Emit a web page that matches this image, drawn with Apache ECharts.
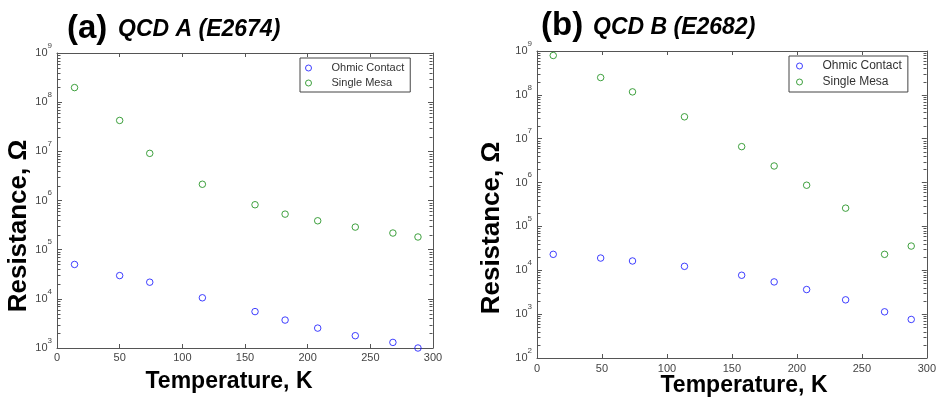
<!DOCTYPE html>
<html><head><meta charset="utf-8">
<script src="https://cdn.jsdelivr.net/npm/echarts@6/dist/echarts.min.js"></script>
<style>html,body{margin:0;padding:0;background:#fff}#c{width:939px;height:401px}</style>
</head><body><div id="c"></div>
<script>
// ---- data ----
const seriesNames = ['Ohmic Contact', 'Single Mesa'];
const tempA  = [14, 50, 74, 116, 158, 182, 208, 238, 268, 288];
const ohmicA = [5.0e4, 2.97e4, 2.18e4, 1.05e4, 5.5e3, 3.7e3, 2.54e3, 1.78e3, 1.30e3, 1.0e3];
const mesaA  = [1.98e8, 4.25e7, 9.1e6, 2.14e6, 8.2e5, 5.28e5, 3.87e5, 2.88e5, 2.18e5, 1.81e5];
const tempB  = [12.5, 49, 73.5, 113.5, 157.5, 182.5, 207.5, 237.5, 267.5, 288];
const ohmicB = [2.31e4, 1.90e4, 1.63e4, 1.23e4, 7.7e3, 5.43e3, 3.64e3, 2.12e3, 1.13e3, 757];
const mesaB  = [7.9e8, 2.48e8, 1.17e8, 3.16e7, 6.6e6, 2.39e6, 8.7e5, 2.61e5, 2.31e4, 3.57e4];
const titlesTag  = ['(a)', '(b)'];
const titlesName = ['QCD A (E2674)', 'QCD B (E2682)'];
const xMin = 0, xMax = 300, xStep = 50;
const yRangeA = [1e3, 1e9];
const yRangeB = [1e2, 1e9];
const minorMult = [2, 3, 4, 5, 6, 7, 8, 9];

const FONT = 'Arial, "Liberation Sans", sans-serif';
const AX = '#555';
const LBL = '#444';
const BLUE = '#1010ff', GREEN = '#108a10';
const COLORS = [BLUE, GREEN];

function minorVals(r) {
  const out = [];
  const e0 = Math.round(Math.log10(r[0])), e1 = Math.round(Math.log10(r[1]));
  for (let e = e0; e < e1; e++) minorMult.forEach(m => out.push([xMin, m * Math.pow(10, e)]));
  return out;
}
function zip(xs, ys) { return xs.map((x, i) => [x, ys[i]]); }

const grids = [
  {left: 57, top: 53, width: 376, height: 295},
  {left: 537, top: 51, width: 391, height: 307}
];
const yRanges = [yRangeA, yRangeB];
const xLabelMargin = [4, 5];

const xAxis = [], yAxis = [], series = [], legend = [];
grids.forEach((g, gi) => {
  const r = yRanges[gi];
  const decades = Math.round(Math.log10(r[1]) - Math.log10(r[0]));
  xAxis.push({
    gridIndex: gi, type: 'value', min: xMin, max: xMax, interval: xStep, position: 'bottom',
    axisLine: {show: true, lineStyle: {color: AX, width: 1}},
    axisTick: {show: true, inside: true, length: 4, lineStyle: {color: AX}},
    axisLabel: {color: LBL, fontSize: 11, fontFamily: FONT, margin: xLabelMargin[gi]},
    splitLine: {show: false}
  });
  xAxis.push({
    gridIndex: gi, type: 'value', min: xMin, max: xMax, interval: xStep, position: 'top',
    axisLine: {show: true, onZero: false, lineStyle: {color: AX, width: 1}},
    axisTick: {show: true, inside: true, length: 4, lineStyle: {color: AX}},
    axisLabel: {show: false}, splitLine: {show: false}
  });
  const yBase = {
    gridIndex: gi, type: 'log', logBase: 10, min: r[0], max: r[1], splitNumber: decades,
    axisLine: {show: true, onZero: false, lineStyle: {color: AX, width: 1}},
    axisTick: {show: true, inside: true, length: 5, lineStyle: {color: AX}},
    splitLine: {show: false}, minorTick: {show: false}
  };
  yAxis.push(Object.assign({}, yBase, {
    position: 'left',
    axisLabel: {
      margin: 5, color: LBL, fontFamily: FONT,
      formatter: v => '{b|10}{e|' + Math.round(Math.log10(v)) + '}',
      rich: {
        b: {fontSize: 11, lineHeight: 11, fontFamily: FONT, color: LBL, verticalAlign: 'middle'},
        e: {fontSize: 8, lineHeight: 8, fontFamily: FONT, color: LBL, verticalAlign: 'middle', padding: [0, 0, 15, 0]}
      }
    }
  }));
  yAxis.push(Object.assign({}, yBase, {position: 'right', axisLabel: {show: false}}));

  const xs = gi === 0 ? tempA : tempB;
  const oh = gi === 0 ? ohmicA : ohmicB;
  const me = gi === 0 ? mesaA : mesaB;
  [[oh, BLUE, seriesNames[0]], [me, GREEN, seriesNames[1]]].forEach(([ys, col, nm]) => {
    series.push({
      name: nm, type: 'scatter', xAxisIndex: gi * 2, yAxisIndex: gi * 2,
      data: zip(xs, ys), symbol: 'circle', symbolSize: 6.5, symbolKeepAspect: true,
      itemStyle: {color: 'rgba(255,255,255,0)', borderColor: col, borderWidth: 1},
      clip: false, silent: true
    });
  });
  // minor log ticks on both vertical edges
  series.push({
    type: 'custom', xAxisIndex: gi * 2, yAxisIndex: gi * 2, silent: true, clip: false,
    data: minorVals(r),
    renderItem: (params, api) => {
      const v = api.value(1);
      const L = api.coord([xMin, v]), R = api.coord([xMax, v]);
      const y = Math.round(L[1]) + 0.5;
      const xl = Math.round(L[0]) + 0.5, xr = Math.round(R[0]) - 0.5;
      return {type: 'group', children: [
        {type: 'line', shape: {x1: xl, y1: y, x2: xl + 3, y2: y}, style: {stroke: AX, lineWidth: 1}},
        {type: 'line', shape: {x1: xr - 3, y1: y, x2: xr, y2: y}, style: {stroke: AX, lineWidth: 1}}
      ]};
    }
  });
});

const legendData = seriesNames.map((n, i) => ({
  name: n, icon: 'circle',
  itemStyle: {color: 'rgba(255,255,255,0)', borderColor: COLORS[i], borderWidth: 1}
}));
legend.push({
  data: legendData, orient: 'vertical', left: 300, top: 58,
  itemWidth: 36, itemHeight: 6, itemGap: 3,
  padding: [4, 6, 3, 5], borderColor: '#444', borderWidth: 1, backgroundColor: '#fff',
  textStyle: {fontSize: 11, lineHeight: 12, color: '#333', fontFamily: FONT},
  selectedMode: false
});
legend.push({
  data: legendData, orient: 'vertical', left: 789, top: 56,
  itemWidth: 36, itemHeight: 6, itemGap: 4,
  padding: [4, 6, 4, 7], borderColor: '#444', borderWidth: 1, backgroundColor: '#fff',
  textStyle: {fontSize: 12, lineHeight: 12, color: '#333', fontFamily: FONT},
  selectedMode: false
});

const txt = (text, x, y, size, opts) => ({
  type: 'text', x: x, y: y, silent: true,
  style: Object.assign({text: text, fontSize: size, fontWeight: 'bold', fontFamily: FONT, fill: '#000',
    align: 'left', verticalAlign: 'middle'}, opts || {})
});
const graphic = [
  txt(titlesTag[0], 67, 29, 33),
  txt(titlesName[0], 118, 30, 23, {fontStyle: 'italic'}),
  txt(titlesTag[1], 541, 26, 33),
  txt(titlesName[1], 593, 28, 23, {fontStyle: 'italic'}),
  txt('Temperature, K', 229, 382, 23, {align: 'center'}),
  txt('Temperature, K', 744, 386, 23, {align: 'center'}),
  Object.assign(txt('Resistance, Ω', 0, 0, 26, {align: 'center'}), {x: 19, y: 226, rotation: Math.PI / 2}),
  Object.assign(txt('Resistance, Ω', 0, 0, 26, {align: 'center'}), {x: 492, y: 228, rotation: Math.PI / 2})
];

const chart = echarts.init(document.getElementById('c'), null, {renderer: 'canvas'});
chart.setOption({
  animation: false, backgroundColor: '#fff',
  grid: grids, xAxis: xAxis, yAxis: yAxis, series: series, legend: legend, graphic: graphic
});
</script></body></html>
